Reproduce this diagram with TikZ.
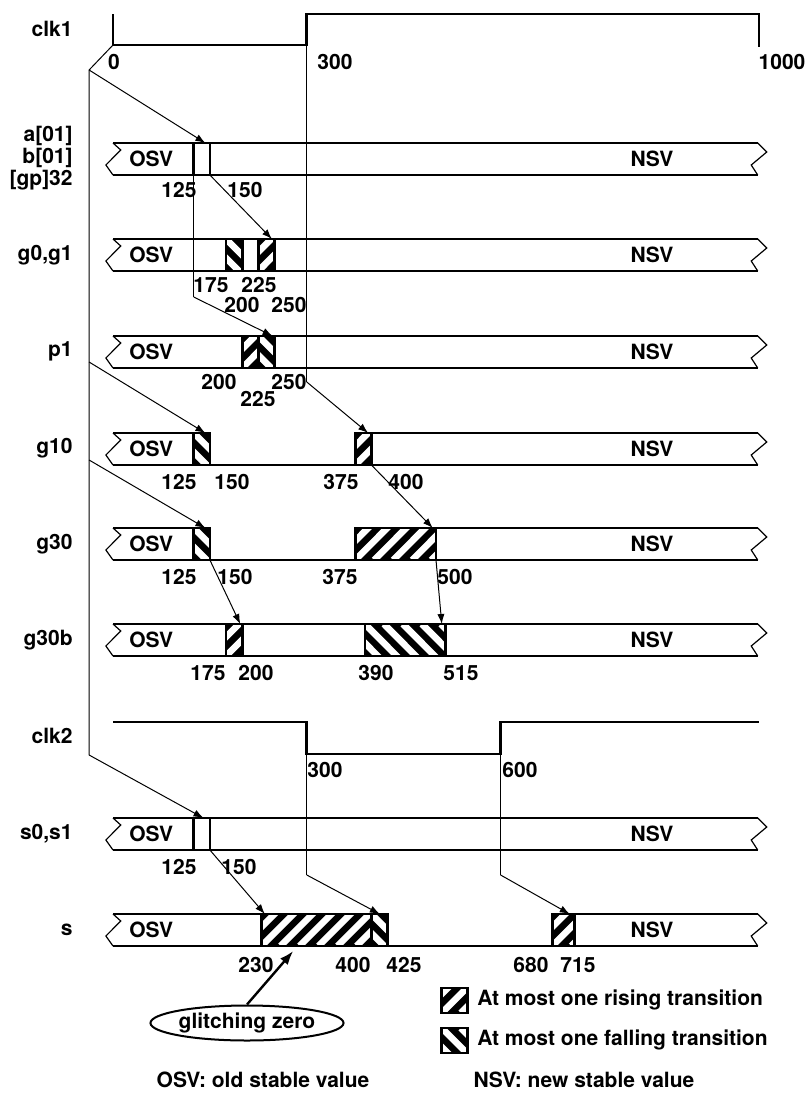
\documentclass[tikz,border=0pt]{standalone}
\usepackage{fontspec}
\setmainfont{TeX Gyre Heros}
\usetikzlibrary{arrows.meta, shapes.geometric}
\tikzset{
  sinal/.style={line width=1.4pt},
  quebra/.style={line width=0.6pt},
  guia/.style={line width=0.5pt},
  seta/.style={guia, -{Latex[length=5pt, width=3.6pt]}},
  rotulo/.style={font=\bfseries\fontsize{10.5}{11}\selectfont, inner sep=0pt},
  nome/.style={rotulo, anchor=east, align=right},
  tempo/.style={rotulo},
}
% bloco hachurado: t inicial, t final, topo, base
\newcommand{\subida}[4]{%
  \begin{scope}
    \clip (#1,#3) rectangle (#2,#4);
    \fill (#1,#3) rectangle (#2,#4);
    \foreach \k in {-2,...,7}
      \draw[white, line width=3.3pt] ({#1+29.4*\k},#4) -- ++(74,-48);
  \end{scope}
  \draw[sinal] (#1,#3) rectangle (#2,#4);
}
\newcommand{\descida}[4]{%
  \begin{scope}
    \clip (#1,#3) rectangle (#2,#4);
    \fill (#1,#3) rectangle (#2,#4);
    \foreach \k in {-2,...,7}
      \draw[white, line width=3.3pt] ({#1+29.4*\k},#3) -- ++(74,48);
  \end{scope}
  \draw[sinal] (#1,#3) rectangle (#2,#4);
}
% quebras nas pontas do barramento
\newcommand{\quebras}[1]{%
  \draw[quebra] (0,#1) -- (12,#1+7) -- (-11,#1+22) -- (0,#1+32);
  \draw[quebra] (998,#1) -- (1012,#1+9) -- (988,#1+22) -- (998,#1+32);
}

\begin{document}
\begin{tikzpicture}[x=0.5pt, y=-0.5pt]
  \useasboundingbox (0,0) rectangle (806,1094);

  % Nomes dos sinais
  \node[nome] (nclk1) at (73,29) {clk1};
  \node[nome] (nab) at (73,158) {a[01]\\b[01]\\{[gp]32}};
  \node[nome] (ng0) at (73,255) {g0,g1};
  \node[nome] (np1) at (73,351) {p1};
  \node[nome] (ng10) at (73,448) {g10};
  \node[nome] (ng30) at (73,544) {g30};
  \node[nome] (ng30b) at (73,640) {g30b};
  \node[nome] (nclk2) at (73,736) {clk2};
  \node[nome] (ns0) at (73,834) {s0,s1};
  \node[nome] (ns) at (73,930) {s};

  \begin{scope}[shift={(113,0)}, x=0.323pt]
    % Relogios
    \draw[sinal] (0,14) -- (0,45) -- (300,45) -- (300,14) -- (1000,14) -- (1000,47);
    \draw[sinal] (0,722) -- (300,722) -- (300,754) -- (600,754) -- (600,722) -- (1000,722);

    % a[01], b[01], [gp]32
    \draw[sinal] (0,143) -- (998,143);
    \draw[sinal] (0,175) -- (998,175);
    \draw[sinal] (125,143) -- (125,175);
    \draw[sinal] (150,143) -- (150,175);
    \quebras{143}
    % g0,g1
    \draw[sinal] (0,239) -- (998,239);
    \draw[sinal] (0,271) -- (998,271);
    \quebras{239}
    \descida{175}{200}{239}{271}
    \subida{225}{250}{239}{271}
    % p1
    \draw[sinal] (0,336) -- (998,336);
    \draw[sinal] (0,368) -- (998,368);
    \quebras{336}
    \subida{200}{225}{336}{368}
    \descida{225}{250}{336}{368}
    % g10
    \draw[sinal] (0,433) -- (125,433);
    \draw[sinal] (400,433) -- (998,433);
    \draw[sinal] (0,465) -- (998,465);
    \quebras{433}
    \descida{125}{150}{433}{465}
    \subida{375}{400}{433}{465}
    % g30
    \draw[sinal] (0,528) -- (125,528);
    \draw[sinal] (500,528) -- (998,528);
    \draw[sinal] (0,560) -- (998,560);
    \quebras{528}
    \descida{125}{150}{528}{560}
    \subida{375}{500}{528}{560}
    % g30b
    \draw[sinal] (0,624) -- (998,624);
    \draw[sinal] (0,656) -- (998,656);
    \quebras{624}
    \subida{175}{200}{624}{656}
    \descida{390}{515}{624}{656}
    % s0,s1
    \draw[sinal] (0,818) -- (998,818);
    \draw[sinal] (0,850) -- (998,850);
    \draw[sinal] (125,818) -- (125,850);
    \draw[sinal] (150,818) -- (150,850);
    \quebras{818}
    % s
    \draw[sinal] (0,914) -- (230,914);
    \draw[sinal] (715,914) -- (998,914);
    \draw[sinal] (0,946) -- (998,946);
    \quebras{914}
    \subida{230}{400}{914}{946}
    \descida{400}{425}{914}{946}
    \subida{680}{715}{914}{946}

    % Legenda
    \subida{509}{549}{988}{1013}
    \descida{509}{549}{1028}{1053}

    % Pontos das setas
    \coordinate (ck1a) at (0,45);
    \coordinate (ck1b) at (-37,70);
    \coordinate (ck1c) at (-37,362);
    \coordinate (ck1d) at (-37,460);
    \coordinate (ck1e) at (-37,755);
    \coordinate (ck1f) at (300,45);
    \coordinate (ck1g) at (300,382);
    \coordinate (ck2a) at (300,754);
    \coordinate (ck2b) at (300,875);
    \coordinate (ck2c) at (600,754);
    \coordinate (ck2d) at (600,875);
    \coordinate (a125) at (125,175);
    \coordinate (a125b) at (125,297);
    \coordinate (a150) at (150,175);
    \coordinate (aIn) at (143,143);
    \coordinate (g0In) at (246,239);
    \coordinate (p1In) at (247,336);
    \coordinate (g10In) at (143,433);
    \coordinate (g10Out) at (395,433);
    \coordinate (g10Fim) at (400,465);
    \coordinate (g30In) at (143,528);
    \coordinate (g30Out) at (495,528);
    \coordinate (g30a) at (150,560);
    \coordinate (g30b) at (500,560);
    \coordinate (g30bIn) at (197,624);
    \coordinate (g30bOut) at (509,624);
    \coordinate (s0In) at (140,818);
    \coordinate (s0Fim) at (150,850);
    \coordinate (sIn) at (235,914);
    \coordinate (sMeio) at (413,914);
    \coordinate (sOut) at (707,914);
    \coordinate (zero) at (279,951);
  \end{scope}

  % Setas de causalidade
  \draw[guia] (ck1a) -- (ck1b) -- (ck1e);
  \draw[seta] (ck1b) -- (aIn);
  \draw[seta] (ck1c) -- (g10In);
  \draw[seta] (ck1d) -- (g30In);
  \draw[seta] (ck1e) -- (s0In);
  \draw[guia] (ck1f) -- (ck1g);
  \draw[seta] (ck1g) -- (g10Out);
  \draw[seta] (a150) -- (g0In);
  \draw[guia] (a125) -- (a125b);
  \draw[seta] (a125b) -- (p1In);
  \draw[seta] (g10Fim) -- (g30Out);
  \draw[seta] (g30a) -- (g30bIn);
  \draw[seta] (g30b) -- (g30bOut);
  \draw[seta] (s0Fim) -- (sIn);
  \draw[guia] (ck2a) -- (ck2b);
  \draw[seta] (ck2b) -- (sMeio);
  \draw[guia] (ck2c) -- (ck2d);
  \draw[seta] (ck2d) -- (sOut);

  % OSV / NSV
  \node[rotulo, anchor=west] (osvA) at (129,159) {OSV};
  \node[rotulo] (nsvA) at (652,159) {NSV};
  \node[rotulo, anchor=west] (osvG0) at (129,255) {OSV};
  \node[rotulo] (nsvG0) at (652,255) {NSV};
  \node[rotulo, anchor=west] (osvP1) at (129,352) {OSV};
  \node[rotulo] (nsvP1) at (652,352) {NSV};
  \node[rotulo, anchor=west] (osvG10) at (129,449) {OSV};
  \node[rotulo] (nsvG10) at (652,449) {NSV};
  \node[rotulo, anchor=west] (osvG30) at (129,544) {OSV};
  \node[rotulo] (nsvG30) at (652,544) {NSV};
  \node[rotulo, anchor=west] (osvG30b) at (129,640) {OSV};
  \node[rotulo] (nsvG30b) at (652,640) {NSV};
  \node[rotulo, anchor=west] (osvS0) at (129,834) {OSV};
  \node[rotulo] (nsvS0) at (652,834) {NSV};
  \node[rotulo, anchor=west] (osvS) at (129,930) {OSV};
  \node[rotulo] (nsvS) at (652,930) {NSV};

  % Instantes
  \node[tempo] (k0) at (114,62) {0};
  \node[tempo] (k300) at (335,62) {300};
  \node[tempo] (k1000) at (782,62) {1000};
  \node[tempo] (a125t) at (179,190) {125};
  \node[tempo] (a150t) at (245,190) {150};
  \node[tempo] (g175t) at (211,285) {175};
  \node[tempo] (g225t) at (259,285) {225};
  \node[tempo] (g200t) at (242,305) {200};
  \node[tempo] (g250t) at (289,305) {250};
  \node[tempo] (p200t) at (219,382) {200};
  \node[tempo] (p250t) at (289,382) {250};
  \node[tempo] (p225t) at (258,399) {225};
  \node[tempo] (h125t) at (179,482) {125};
  \node[tempo] (h150t) at (232,482) {150};
  \node[tempo] (h375t) at (341,482) {375};
  \node[tempo] (h400t) at (406,482) {400};
  \node[tempo] (i125t) at (179,577) {125};
  \node[tempo] (i150t) at (235,577) {150};
  \node[tempo] (i375t) at (340,577) {375};
  \node[tempo] (i500t) at (455,577) {500};
  \node[tempo] (j175t) at (208,673) {175};
  \node[tempo] (j200t) at (256,673) {200};
  \node[tempo] (j390t) at (376,673) {390};
  \node[tempo] (j515t) at (461,673) {515};
  \node[tempo] (c300t) at (325,770) {300};
  \node[tempo] (c600t) at (520,770) {600};
  \node[tempo] (s125t) at (179,867) {125};
  \node[tempo] (s150t) at (239,867) {150};
  \node[tempo] (s230t) at (256,965) {230};
  \node[tempo] (s400t) at (353,965) {400};
  \node[tempo] (s425t) at (404,965) {425};
  \node[tempo] (s680t) at (531,965) {680};
  \node[tempo] (s715t) at (578,965) {715};

  % Glitch
  \node[rotulo, ellipse, draw, line width=1pt, minimum width=75pt, minimum height=17.5pt] (glitch) at (247,1023) {glitching zero};
  \draw[line width=1.2pt, -{Latex[length=7pt, width=5pt]}] (glitch.north) -- (zero);

  % Legenda
  \node[rotulo, anchor=west] (lsub) at (477,1000) {At most one rising transition};
  \node[rotulo, anchor=west] (ldesc) at (477,1040) {At most one falling transition};
  \node[rotulo] (losv) at (263,1080) {OSV: old stable value};
  \node[rotulo] (lnsv) at (584,1080) {NSV: new stable value};
\end{tikzpicture}
\end{document}
